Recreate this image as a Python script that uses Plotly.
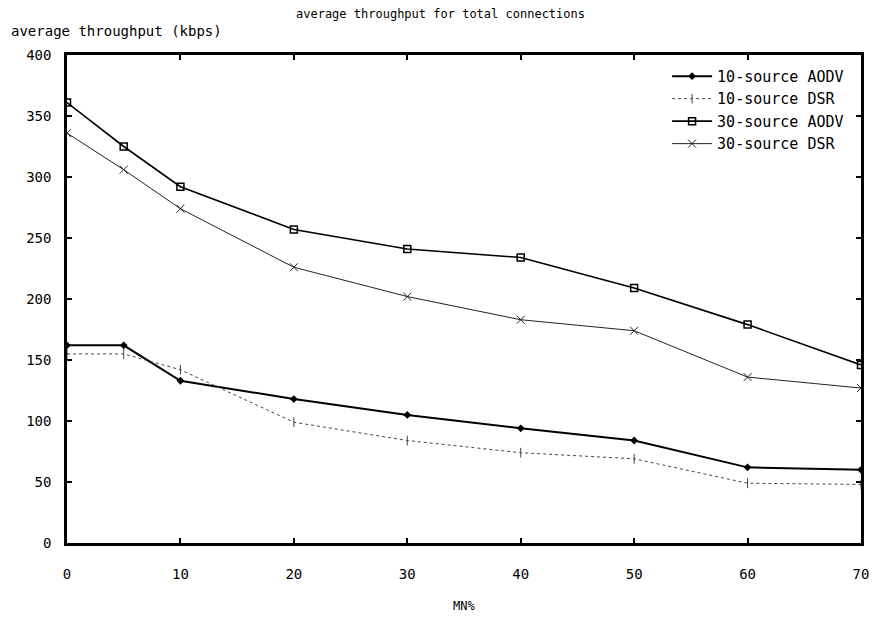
import plotly.graph_objects as go

mn_pct = [0, 5, 10, 20, 30, 40, 50, 60, 70]
aodv10 = [162, 162, 133, 118, 105, 94, 84, 62, 60]
dsr10 = [155, 155, 142, 99, 84, 74, 69, 49, 48]
aodv30 = [361, 325, 292, 257, 241, 234, 209, 179, 146]
dsr30 = [336, 306, 274, 226, 202, 183, 174, 136, 127]

x_ticks = [0, 10, 20, 30, 40, 50, 60, 70]
y_ticks = [0, 50, 100, 150, 200, 250, 300, 350, 400]

FONT = "DejaVu Sans Mono"

fig = go.Figure()
fig.add_trace(go.Scatter(x=mn_pct, y=aodv10, name="10-source AODV", mode="lines+markers",
                         line=dict(color="black", width=2),
                         marker=dict(symbol="diamond", size=6, color="black")))
fig.add_trace(go.Scatter(x=mn_pct, y=dsr10, name="10-source DSR", mode="lines+markers",
                         line=dict(color="#444444", width=1, dash="dot"),
                         marker=dict(symbol="line-ns-open", size=7, color="#444444",
                                     line=dict(width=1, color="#444444"))))
fig.add_trace(go.Scatter(x=mn_pct, y=aodv30, name="30-source AODV", mode="lines+markers",
                         line=dict(color="black", width=1.6),
                         marker=dict(symbol="square-open", size=7, color="black",
                                     line=dict(width=1.5, color="black"))))
fig.add_trace(go.Scatter(x=mn_pct, y=dsr30, name="30-source DSR", mode="lines+markers",
                         line=dict(color="#222222", width=1),
                         marker=dict(symbol="x-thin-open", size=8, color="#222222",
                                     line=dict(width=1, color="#222222"))))

fig.update_layout(
    width=881, height=619,
    margin=dict(l=67, r=18, t=55, b=76),
    paper_bgcolor="white", plot_bgcolor="white",
    font=dict(family=FONT, size=14, color="black"),
    title=dict(text="average throughput for total connections", x=0.5, xanchor="center",
               y=0.985, yanchor="top", font=dict(family=FONT, size=12)),
    legend=dict(x=0.985, y=0.99, xanchor="right", yanchor="top",
                bgcolor="rgba(0,0,0,0)", borderwidth=0,
                font=dict(family=FONT, size=15), itemwidth=40),
    showlegend=True,
    annotations=[
        dict(text="average throughput (kbps)", x=0, xref="paper", xanchor="left",
             xshift=-58, y=1, yref="paper", yanchor="bottom", yshift=14,
             showarrow=False, font=dict(family=FONT, size=14)),
        dict(text="MN%", x=0.5, xref="paper", xanchor="center", y=0, yref="paper",
             yanchor="top", yshift=-54, showarrow=False, font=dict(family=FONT, size=12)),
    ],
)
fig.update_xaxes(range=[0, 70], tickvals=x_ticks, ticks="inside", ticklen=5, tickwidth=2,
                 tickcolor="black", showline=True, linewidth=2.5, linecolor="black",
                 mirror="ticks", showgrid=False, zeroline=False, ticklabelstandoff=16,
                 tickfont=dict(family=FONT, size=14))
fig.update_yaxes(range=[0, 400], tickvals=y_ticks, ticks="inside", ticklen=5, tickwidth=2,
                 tickcolor="black", showline=True, linewidth=2.5, linecolor="black",
                 mirror="ticks", showgrid=False, zeroline=False, ticklabelstandoff=10,
                 tickfont=dict(family=FONT, size=14))

fig.write_html("out.html")
